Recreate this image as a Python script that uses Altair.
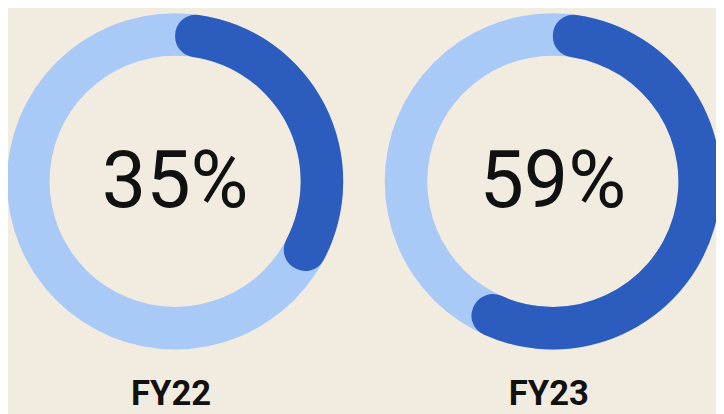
import math
import altair as alt
import pandas as pd

years = ["FY22", "FY23"]
pcts = [35, 59]
pct_labels = ["35%", "59%"]

df = pd.DataFrame({
    "year": years,
    "pct": pcts,
    "label": pct_labels,
    "full": [100, 100],
    "zero": [0, 0],
})

LIGHT = "#A9C9F7"
DARK = "#2B5CBE"
BG = "#F2ECE0"

xpos = alt.X(
    "year:N",
    scale=alt.Scale(type="point", domain=years, range=[169, 551], padding=0),
    axis=None,
)
theta_scale = alt.Scale(domain=[0, 100], range=[0, 2 * math.pi])

base = alt.Chart(df)

ring = base.mark_arc(innerRadius=127, outerRadius=170, color=LIGHT).encode(
    x=xpos,
    y=alt.value(173),
    theta=alt.Theta("full:Q", scale=theta_scale, stack=None),
    theta2="zero:Q",
)

progress = base.mark_arc(innerRadius=127, outerRadius=170, cornerRadius=21, color=DARK).encode(
    x=xpos,
    y=alt.value(173),
    theta=alt.Theta("pct:Q", scale=theta_scale, stack=None),
    theta2="zero:Q",
)

center_text = base.mark_text(
    font="Roboto", fontSize=80, color="#111111", align="center", baseline="alphabetic"
).encode(
    x=xpos,
    y=alt.value(199),
    text="label:N",
)

year_text = base.mark_text(
    font="Roboto", fontSize=35, fontWeight="bold", color="#111111",
    align="center", baseline="alphabetic", dx=-4
).encode(
    x=xpos,
    y=alt.value(399),
    text="year:N",
)

chart = alt.layer(ring, progress, center_text, year_text).properties(
    width=716,
    height=406,
    background=BG,
    padding=0,
    autosize=alt.AutoSizeParams(type="none"),
).configure_view(stroke=None)

chart.save("out.html", embed_options={"renderer": "svg", "actions": False})
